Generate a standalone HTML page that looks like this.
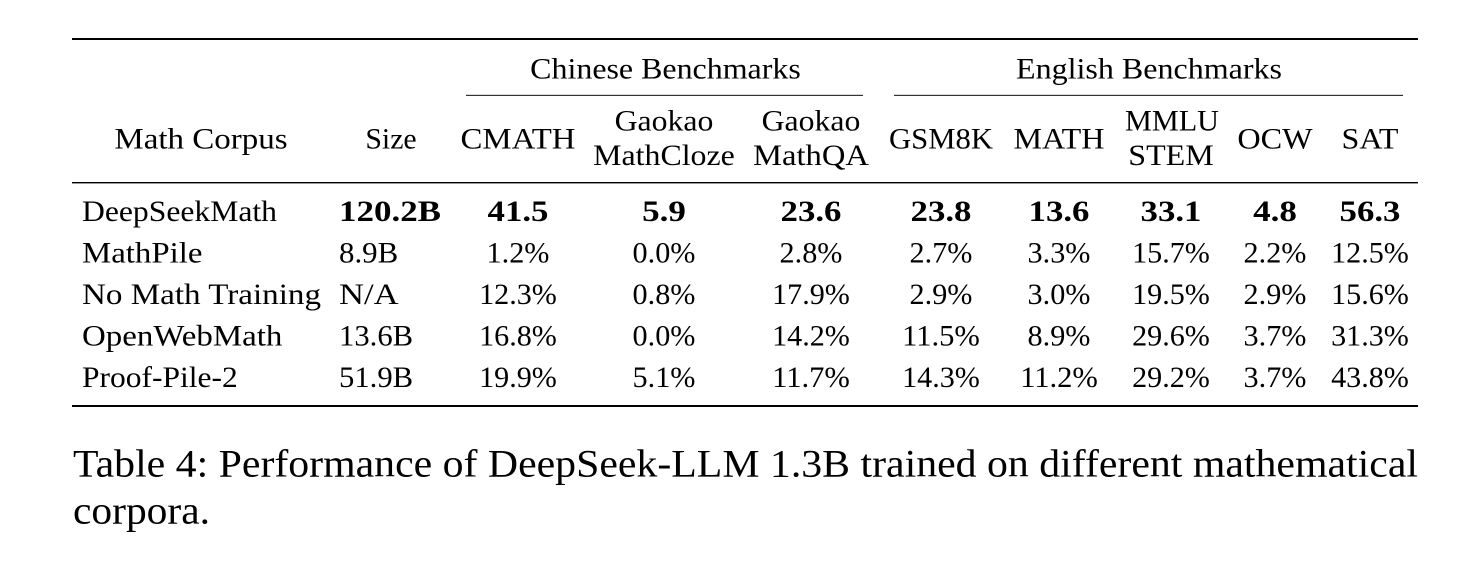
<!DOCTYPE html>
<html>
<head>
<meta charset="utf-8">
<style>
  html, body { margin:0; padding:0; background:#fff; }
  body { width:1467px; height:570px; overflow:hidden; }
  svg { display:block; }
  text { font-family: "Liberation Serif", serif; fill:#000; }
  .t { font-size:29.8px; }
  .b { font-size:29.8px; font-weight:bold; }
  .cap { font-size:39.5px; }
</style>
</head>
<body>
<svg width="1467" height="570" viewBox="0 0 1467 570" xmlns="http://www.w3.org/2000/svg">
  <!-- rules -->
  <rect x="72" y="38" width="1346" height="2" fill="#000"/>
  <rect x="466" y="94.8" width="397" height="1.2" fill="#333"/>
  <rect x="894" y="94.8" width="509" height="1.2" fill="#333"/>
  <rect x="72" y="182" width="1346" height="1.4" fill="#000"/>
  <rect x="72" y="405" width="1346" height="2" fill="#000"/>

  <!-- group headers -->
  <text class="t" x="665.5" y="78.3" text-anchor="middle" textLength="270.6" lengthAdjust="spacingAndGlyphs">Chinese Benchmarks</text>
  <text class="t" x="1149" y="78.3" text-anchor="middle" textLength="266" lengthAdjust="spacingAndGlyphs">English Benchmarks</text>

  <!-- column headers -->
  <text class="t" x="201" y="148.3" text-anchor="middle" textLength="173.3" lengthAdjust="spacingAndGlyphs">Math Corpus</text>
  <text class="t" x="391" y="148.3" text-anchor="middle" textLength="51.3" lengthAdjust="spacingAndGlyphs">Size</text>
  <text class="t" x="518" y="148.3" text-anchor="middle" textLength="115" lengthAdjust="spacingAndGlyphs">CMATH</text>
  <text class="t" x="664" y="130.7" text-anchor="middle" textLength="98.7" lengthAdjust="spacingAndGlyphs">Gaokao</text>
  <text class="t" x="664" y="165" text-anchor="middle" textLength="141.6" lengthAdjust="spacingAndGlyphs">MathCloze</text>
  <text class="t" x="811" y="130.7" text-anchor="middle" textLength="98.7" lengthAdjust="spacingAndGlyphs">Gaokao</text>
  <text class="t" x="811" y="165" text-anchor="middle" textLength="115.9" lengthAdjust="spacingAndGlyphs">MathQA</text>
  <text class="t" x="941" y="148.3" text-anchor="middle" textLength="104" lengthAdjust="spacingAndGlyphs">GSM8K</text>
  <text class="t" x="1059" y="148.3" text-anchor="middle" textLength="91" lengthAdjust="spacingAndGlyphs">MATH</text>
  <text class="t" x="1172" y="130.7" text-anchor="middle" textLength="94" lengthAdjust="spacingAndGlyphs">MMLU</text>
  <text class="t" x="1171" y="165" text-anchor="middle" textLength="85.5" lengthAdjust="spacingAndGlyphs">STEM</text>
  <text class="t" x="1275" y="148.3" text-anchor="middle" textLength="75.3" lengthAdjust="spacingAndGlyphs">OCW</text>
  <text class="t" x="1370" y="148.3" text-anchor="middle" textLength="57" lengthAdjust="spacingAndGlyphs">SAT</text>

  <!-- row 1 -->
  <text class="t" x="82" y="221" textLength="195" lengthAdjust="spacingAndGlyphs">DeepSeekMath</text>
  <text class="b" x="339" y="221" textLength="102" lengthAdjust="spacingAndGlyphs">120.2B</text>
  <text class="b" x="518" y="221" text-anchor="middle" textLength="60.9" lengthAdjust="spacingAndGlyphs">41.5</text>
  <text class="b" x="664" y="221" text-anchor="middle" textLength="43.8" lengthAdjust="spacingAndGlyphs">5.9</text>
  <text class="b" x="811" y="221" text-anchor="middle" textLength="60.9" lengthAdjust="spacingAndGlyphs">23.6</text>
  <text class="b" x="941" y="221" text-anchor="middle" textLength="60.9" lengthAdjust="spacingAndGlyphs">23.8</text>
  <text class="b" x="1059" y="221" text-anchor="middle" textLength="60.9" lengthAdjust="spacingAndGlyphs">13.6</text>
  <text class="b" x="1171" y="221" text-anchor="middle" textLength="60.9" lengthAdjust="spacingAndGlyphs">33.1</text>
  <text class="b" x="1275" y="221" text-anchor="middle" textLength="43.8" lengthAdjust="spacingAndGlyphs">4.8</text>
  <text class="b" x="1370" y="221" text-anchor="middle" textLength="60.9" lengthAdjust="spacingAndGlyphs">56.3</text>

  <!-- row 2 -->
  <text class="t" x="82" y="262.6" textLength="120.5" lengthAdjust="spacingAndGlyphs">MathPile</text>
  <text class="t" x="339" y="262.6" textLength="59.2" lengthAdjust="spacingAndGlyphs">8.9B</text>
  <text class="t" x="518" y="262.6" text-anchor="middle" textLength="62.9" lengthAdjust="spacingAndGlyphs">1.2%</text>
  <text class="t" x="664" y="262.6" text-anchor="middle" textLength="62.9" lengthAdjust="spacingAndGlyphs">0.0%</text>
  <text class="t" x="811" y="262.6" text-anchor="middle" textLength="62.9" lengthAdjust="spacingAndGlyphs">2.8%</text>
  <text class="t" x="941" y="262.6" text-anchor="middle" textLength="62.9" lengthAdjust="spacingAndGlyphs">2.7%</text>
  <text class="t" x="1059" y="262.6" text-anchor="middle" textLength="62.9" lengthAdjust="spacingAndGlyphs">3.3%</text>
  <text class="t" x="1171" y="262.6" text-anchor="middle" textLength="77.8" lengthAdjust="spacingAndGlyphs">15.7%</text>
  <text class="t" x="1275" y="262.6" text-anchor="middle" textLength="62.9" lengthAdjust="spacingAndGlyphs">2.2%</text>
  <text class="t" x="1370" y="262.6" text-anchor="middle" textLength="77.8" lengthAdjust="spacingAndGlyphs">12.5%</text>

  <!-- row 3 -->
  <text class="t" x="82" y="304" textLength="239" lengthAdjust="spacingAndGlyphs">No Math Training</text>
  <text class="t" x="339" y="304" textLength="59.6" lengthAdjust="spacingAndGlyphs">N/A</text>
  <text class="t" x="518" y="304" text-anchor="middle" textLength="77.8" lengthAdjust="spacingAndGlyphs">12.3%</text>
  <text class="t" x="664" y="304" text-anchor="middle" textLength="62.9" lengthAdjust="spacingAndGlyphs">0.8%</text>
  <text class="t" x="811" y="304" text-anchor="middle" textLength="77.8" lengthAdjust="spacingAndGlyphs">17.9%</text>
  <text class="t" x="941" y="304" text-anchor="middle" textLength="62.9" lengthAdjust="spacingAndGlyphs">2.9%</text>
  <text class="t" x="1059" y="304" text-anchor="middle" textLength="62.9" lengthAdjust="spacingAndGlyphs">3.0%</text>
  <text class="t" x="1171" y="304" text-anchor="middle" textLength="77.8" lengthAdjust="spacingAndGlyphs">19.5%</text>
  <text class="t" x="1275" y="304" text-anchor="middle" textLength="62.9" lengthAdjust="spacingAndGlyphs">2.9%</text>
  <text class="t" x="1370" y="304" text-anchor="middle" textLength="77.8" lengthAdjust="spacingAndGlyphs">15.6%</text>

  <!-- row 4 -->
  <text class="t" x="82" y="345.6" textLength="200.4" lengthAdjust="spacingAndGlyphs">OpenWebMath</text>
  <text class="t" x="339" y="345.6" textLength="74.1" lengthAdjust="spacingAndGlyphs">13.6B</text>
  <text class="t" x="518" y="345.6" text-anchor="middle" textLength="77.8" lengthAdjust="spacingAndGlyphs">16.8%</text>
  <text class="t" x="664" y="345.6" text-anchor="middle" textLength="62.9" lengthAdjust="spacingAndGlyphs">0.0%</text>
  <text class="t" x="811" y="345.6" text-anchor="middle" textLength="77.8" lengthAdjust="spacingAndGlyphs">14.2%</text>
  <text class="t" x="941" y="345.6" text-anchor="middle" textLength="77.8" lengthAdjust="spacingAndGlyphs">11.5%</text>
  <text class="t" x="1059" y="345.6" text-anchor="middle" textLength="62.9" lengthAdjust="spacingAndGlyphs">8.9%</text>
  <text class="t" x="1171" y="345.6" text-anchor="middle" textLength="77.8" lengthAdjust="spacingAndGlyphs">29.6%</text>
  <text class="t" x="1275" y="345.6" text-anchor="middle" textLength="62.9" lengthAdjust="spacingAndGlyphs">3.7%</text>
  <text class="t" x="1370" y="345.6" text-anchor="middle" textLength="77.8" lengthAdjust="spacingAndGlyphs">31.3%</text>

  <!-- row 5 -->
  <text class="t" x="82" y="386.8" textLength="155.7" lengthAdjust="spacingAndGlyphs">Proof-Pile-2</text>
  <text class="t" x="339" y="386.8" textLength="74.1" lengthAdjust="spacingAndGlyphs">51.9B</text>
  <text class="t" x="518" y="386.8" text-anchor="middle" textLength="77.8" lengthAdjust="spacingAndGlyphs">19.9%</text>
  <text class="t" x="664" y="386.8" text-anchor="middle" textLength="62.9" lengthAdjust="spacingAndGlyphs">5.1%</text>
  <text class="t" x="811" y="386.8" text-anchor="middle" textLength="77.8" lengthAdjust="spacingAndGlyphs">11.7%</text>
  <text class="t" x="941" y="386.8" text-anchor="middle" textLength="77.8" lengthAdjust="spacingAndGlyphs">14.3%</text>
  <text class="t" x="1059" y="386.8" text-anchor="middle" textLength="77.8" lengthAdjust="spacingAndGlyphs">11.2%</text>
  <text class="t" x="1171" y="386.8" text-anchor="middle" textLength="77.8" lengthAdjust="spacingAndGlyphs">29.2%</text>
  <text class="t" x="1275" y="386.8" text-anchor="middle" textLength="62.9" lengthAdjust="spacingAndGlyphs">3.7%</text>
  <text class="t" x="1370" y="386.8" text-anchor="middle" textLength="77.8" lengthAdjust="spacingAndGlyphs">43.8%</text>

  <!-- caption -->
  <text class="cap" x="73" y="476.7" textLength="1345" lengthAdjust="spacingAndGlyphs">Table 4:  Performance of DeepSeek-LLM 1.3B trained on different mathematical</text>
  <text class="cap" x="73" y="523.3" textLength="137" lengthAdjust="spacingAndGlyphs">corpora.</text>
</svg>
</body>
</html>
